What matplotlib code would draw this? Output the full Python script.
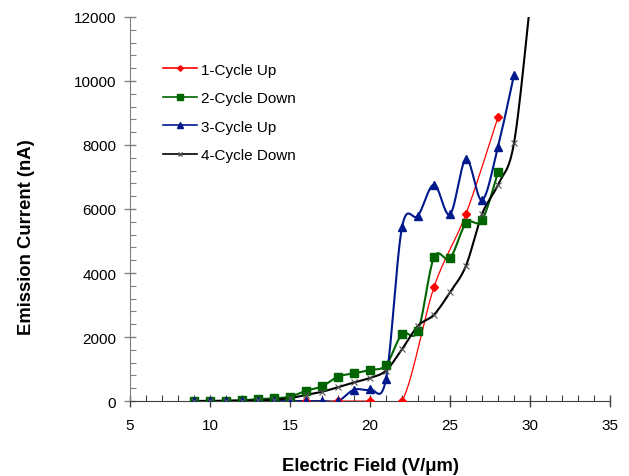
import numpy as np
import matplotlib
matplotlib.use("Agg")
import matplotlib.pyplot as plt
from matplotlib.ticker import MultipleLocator

plt.rcParams['font.family'] = ['Liberation Sans', 'DejaVu Sans']

# Data
x_up1 = [10, 12, 14, 16, 18, 20, 22, 24, 26, 28]
y_up1 = [0, 0, 0, 0, 0, 0, 0, 3560, 5850, 8870]

x_down2 = [9, 10, 11, 12, 13, 14, 15, 16, 17, 18, 19, 20, 21, 22, 23, 24, 25, 26, 27, 28]
y_down2 = [0, 0, 10, 20, 60, 85, 135, 320, 460, 760, 865, 970, 1125, 2090, 2200,
           4490, 4460, 5560, 5650, 7150]

x_up3 = [9, 10, 11, 12, 13, 14, 15, 16, 17, 18, 19, 20, 21, 22, 23, 24, 25, 26, 27, 28, 29]
y_up3 = [0, 0, 0, 0, 0, 0, 0, 0, 0, 0, 355, 360, 690, 5430, 5790, 6760, 5830,
         7560, 6280, 7950, 10190]

x_down4 = [9, 10, 11, 12, 13, 14, 15, 16, 17, 18, 19, 20, 21, 22, 23, 24, 25, 26, 27, 28, 29, 30]
y_down4 = [0, 0, 5, 10, 20, 40, 90, 190, 290, 430, 580, 720, 950, 1620, 2350,
           2700, 3400, 4230, 5840, 6760, 8060, 12400]

labels = ["1-Cycle Up", "2-Cycle Down", "3-Cycle Up", "4-Cycle Down"]


def smooth(xs, ys, n=30):
    """Excel-style smoothed line (Catmull-Rom Bezier)."""
    p = np.column_stack([np.asarray(xs, float), np.asarray(ys, float)])
    out = []
    m = len(p)
    t = np.linspace(0, 1, n)[:, None]
    for i in range(m - 1):
        p0 = p[i - 1] if i > 0 else p[i]
        p1 = p[i]
        p2 = p[i + 1]
        p3 = p[i + 2] if i + 2 < m else p[i + 1]
        c1 = p1 + (p2 - p0) / 6.0
        c2 = p2 - (p3 - p1) / 6.0
        seg = ((1 - t) ** 3) * p1 + 3 * ((1 - t) ** 2) * t * c1 + 3 * (1 - t) * t ** 2 * c2 + t ** 3 * p2
        out.append(seg if i == 0 else seg[1:])
    s = np.vstack(out)
    return s[:, 0], s[:, 1]


fig = plt.figure(figsize=(6.29, 4.77), dpi=100)
ax = fig.add_axes([0.2067, 0.1572, 0.7631, 0.8051])

series = [
    (x_up1, y_up1, '#FF0000', 'D', 4, 0.9),
    (x_down2, y_down2, '#006400', 's', 5.5, 1.5),
    (x_up3, y_up3, '#00198C', '^', 6, 1.5),
    (x_down4, y_down4, '#000000', 'x', 5, 1.5),
]

for (xs, ys, col, mk, ms, lw), lab in zip(series, labels):
    sx, sy = smooth(xs, ys)
    ax.plot(sx, sy, color=col, lw=lw, zorder=2, clip_on=True)
    mxs, mys = xs, ys
    if mk == 'x':
        mxs, mys = xs[:-1], ys[:-1]
        ax.plot(mxs, mys, ls='none', marker=mk, ms=ms, mec='#555555', mew=0.8, zorder=3)
    else:
        ax.plot(mxs, mys, ls='none', marker=mk, ms=ms, mfc=col, mec=col, zorder=3)
    ax.plot([], [], color=col, lw=1.2, marker=mk, ms=ms * 0.7,
            mfc=col, mec=(col if mk != 'x' else '#555555'), label=lab)

ax.set_xlim(5, 35)
ax.set_ylim(0, 12000)
ax.xaxis.set_major_locator(MultipleLocator(5))
ax.xaxis.set_minor_locator(MultipleLocator(1))
ax.yaxis.set_major_locator(MultipleLocator(2000))
ax.yaxis.set_minor_locator(MultipleLocator(400))

for s in ['top', 'right']:
    ax.spines[s].set_visible(False)
ax.spines['left'].set_color('#808080')
ax.spines['bottom'].set_color('#404040')

ax.tick_params(axis='x', which='major', direction='inout', length=8, width=1,
               color='#404040', labelsize=11, pad=8)
ax.tick_params(axis='x', which='minor', direction='in', length=4, width=0.8, color='#404040')
ax.tick_params(axis='y', which='major', direction='inout', length=8, width=1,
               color='#808080', labelsize=11, pad=6)
ax.tick_params(axis='y', which='minor', direction='in', length=4, width=0.8, color='#808080')

ax.set_xlabel("Electric Field (V/\u03bcm)", fontsize=13.3, fontweight='bold', labelpad=18)
ax.set_ylabel("Emission Current (nA)", fontsize=13.3, fontweight='bold', labelpad=28)
ax.yaxis.label.set_y(0.43)

ax.legend(loc='upper left', bbox_to_anchor=(0.04, 0.917), frameon=False, fontsize=11,
          handlelength=2.2, labelspacing=0.95, handletextpad=0.3)

fig.savefig("out.png", dpi=100)
